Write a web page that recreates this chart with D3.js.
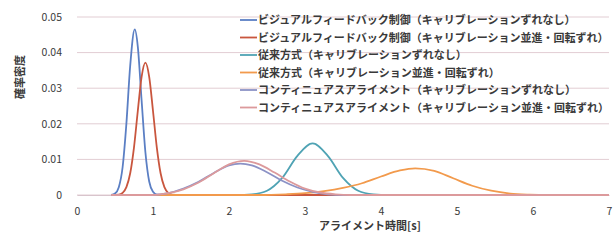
<!DOCTYPE html>
<html>
<head>
<meta charset="utf-8">
<script src="https://cdn.jsdelivr.net/npm/d3@7"></script>
<style>
  body { margin: 0; background: #fff; }
  text { font-family: "Noto Sans CJK JP", "Noto Sans", sans-serif; fill: #3a3a3a; }
</style>
</head>
<body>
<div id="chart"></div>
<script>
const seriesNames = [
    "ビジュアルフィードバック制御（キャリブレーションずれなし）",
    "ビジュアルフィードバック制御（キャリブレーション並進・回転ずれ）",
    "従来方式（キャリブレーションずれなし）",
    "従来方式（キャリブレーション並進・回転ずれ）",
    "コンティニュアスアライメント（キャリブレーションずれなし）",
    "コンティニュアスアライメント（キャリブレーション並進・回転ずれ）"
];
const seriesColors = ["#5b7fc4", "#c9563e", "#4fa3b4", "#f29a4c", "#8c92c6", "#dc9a9c"];

// [time, density]
const visualNoOffset = [[0.45, 0], [0.5, 0.0004], [0.55, 0.0022], [0.6, 0.0078], [0.65, 0.0201], [0.7, 0.0363],
    [0.76, 0.0465], [0.8, 0.0417], [0.85, 0.0266], [0.9, 0.0120], [0.95, 0.0038], [1.0, 0.0009], [1.05, 0.0001], [1.15, 0], [7, 0]];
const visualOffset = [[0.45, 0], [0.55, 0.0001], [0.6, 0.0006], [0.65, 0.0022], [0.7, 0.0061], [0.75, 0.0134], [0.8, 0.0236],
    [0.85, 0.0332], [0.9, 0.0372], [0.95, 0.0332], [1.0, 0.0236], [1.05, 0.0134], [1.1, 0.0061], [1.15, 0.0022],
    [1.2, 0.0006], [1.25, 0.0001], [1.35, 0], [7, 0]];
const conventionalNoOffset = [[0.45, 0], [2.1, 0], [2.3, 0.0002], [2.5, 0.0012], [2.7, 0.0048], [2.9, 0.0110], [3.1, 0.0145],
    [3.3, 0.0110], [3.5, 0.0048], [3.7, 0.0012], [3.9, 0.0002], [4.1, 0], [7, 0]];
const conventionalOffset = [[0.45, 0], [2.4, 0], [2.75, 0.0002], [3.0, 0.0005], [3.25, 0.0011], [3.5, 0.0020], [3.75, 0.0033],
    [4.0, 0.0052], [4.25, 0.0069], [4.45, 0.0075], [4.7, 0.0068], [4.95, 0.0047], [5.2, 0.0026], [5.45, 0.0012],
    [5.7, 0.0004], [5.95, 0.0001], [6.2, 0], [7, 0]];
const continuousNoOffset = [[0.45, 0], [1.0, 0], [1.2, 0.0005], [1.4, 0.0018], [1.6, 0.0037], [1.8, 0.0062], [2.0, 0.0083],
    [2.15, 0.0088], [2.3, 0.0083], [2.5, 0.0064], [2.7, 0.0040], [2.9, 0.0021], [3.1, 0.0009], [3.3, 0.0002], [3.5, 0], [7, 0]];
const continuousOffset = [[0.45, 0], [1.0, 0], [1.2, 0.0005], [1.4, 0.0016], [1.6, 0.0035], [1.8, 0.0061], [2.0, 0.0086],
    [2.2, 0.0096], [2.4, 0.0086], [2.6, 0.0063], [2.8, 0.0038], [3.0, 0.0018], [3.2, 0.0007], [3.4, 0.0002], [3.6, 0], [7, 0]];

const seriesData = [visualNoOffset, visualOffset, conventionalNoOffset, conventionalOffset, continuousNoOffset, continuousOffset];

const xTicks = [0, 1, 2, 3, 4, 5, 6, 7];
const yTicks = [0, 0.01, 0.02, 0.03, 0.04, 0.05];

const width = 616;
const height = 244;
const margin = {top: 17, left: 77, bottom: 49, right: 7};
const clipWidth = width - margin.left - margin.right;
const clipHeight = height - margin.top - margin.bottom;

const svg = d3.select("#chart").append("svg")
    .attr("width", width)
    .attr("height", height);

const g = svg.append("g")
    .attr("transform", "translate(" + margin.left + "," + margin.top + ")");

let xScale = d3.scaleLinear().domain([0, 7]).range([0, clipWidth]);
let yScale = d3.scaleLinear().domain([0, 0.05]).range([clipHeight, 0]);

// gridlines
g.append("g")
    .selectAll("line")
    .data(yTicks)
    .enter()
    .append("line")
    .attr("x1", 0)
    .attr("x2", clipWidth)
    .attr("y1", d => yScale(d))
    .attr("y2", d => yScale(d))
    .attr("stroke", "#e2cdd3")
    .attr("stroke-width", 1);

let xAxis = g.append("g")
    .attr("transform", "translate(0," + clipHeight + ")")
    .call(d3.axisBottom(xScale).tickValues(xTicks).tickFormat(d3.format("d")).tickSize(0).tickPadding(13));

let yAxis = g.append("g")
    .call(d3.axisLeft(yScale).tickValues(yTicks).tickFormat(d => d === 0 ? "0" : d3.format(".2f")(d)).tickSize(0).tickPadding(15));

xAxis.select(".domain").attr("stroke", "#d8c4cc");
yAxis.select(".domain").remove();
svg.selectAll(".tick text").style("font-size", "10.5px").attr("fill", "#3a3a3a");

// curves
let line = d3.line()
    .x(d => xScale(d[0]))
    .y(d => yScale(d[1]))
    .curve(d3.curveMonotoneX);

g.append("g")
    .selectAll("path")
    .data(seriesData)
    .enter()
    .append("path")
    .attr("fill", "none")
    .attr("stroke", (d, i) => seriesColors[i])
    .attr("stroke-width", 1.8)
    .attr("d", d => line(d));

// legend
const legend = svg.append("g")
    .attr("transform", "translate(240,20)");

let rows = legend.selectAll("g")
    .data(seriesNames)
    .enter()
    .append("g")
    .attr("transform", (d, i) => "translate(0," + i * 17.5 + ")");

rows.append("line")
    .attr("x1", 0)
    .attr("x2", 17)
    .attr("y1", 0)
    .attr("y2", 0)
    .attr("stroke", (d, i) => seriesColors[i])
    .attr("stroke-width", 1.8);

rows.append("text")
    .attr("x", 18)
    .attr("y", 4)
    .style("font-size", "11px")
    .style("font-weight", "bold")
    .text(d => d);

// axis titles
svg.append("text")
    .attr("x", 370)
    .attr("y", 230)
    .attr("text-anchor", "middle")
    .style("font-size", "11px")
    .style("font-weight", "bold")
    .text("アライメント時間[s]");

svg.append("text")
    .attr("transform", "translate(24,77) rotate(-90)")
    .attr("text-anchor", "middle")
    .style("font-size", "11px")
    .style("font-weight", "bold")
    .text("確率密度");
</script>
</body>
</html>
